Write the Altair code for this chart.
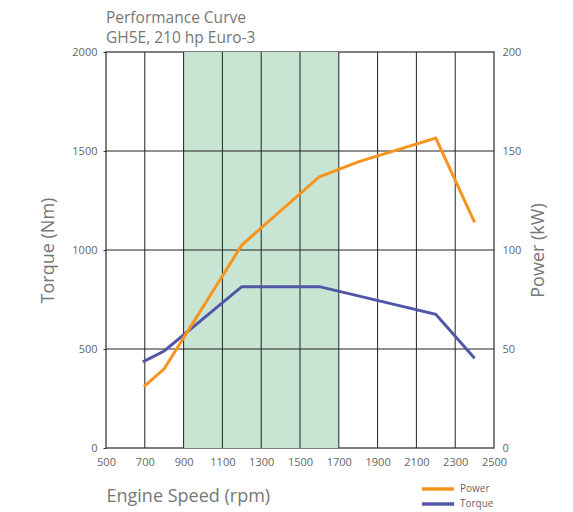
import altair as alt
import pandas as pd

torque_rpm = [690, 800, 1200, 1600, 2200, 2400]
torque_nm = [435, 490, 815, 815, 675, 453]

power_rpm = [695, 800, 1200, 1600, 1800, 2200, 2400]
power_kw = [31, 40, 102.5, 137, 144.5, 156.5, 114]

band_start = [900]
band_end = [1700]

x_grid = [700, 900, 1100, 1300, 1500, 1700, 1900, 2100, 2300]
y_grid = [500, 1000, 1500]

series = ["Power", "Torque"]
colors = ["#F7941D", "#5157A6"]

FONT = "Open Sans"
GRAY = "#666666"

tq = pd.DataFrame({"rpm": torque_rpm, "val": torque_nm, "series": "Torque"})
pw = pd.DataFrame({"rpm": power_rpm, "val": power_kw, "series": "Power"})
band = pd.DataFrame({"x": band_start, "x2": band_end})
xg = pd.DataFrame({"x": x_grid})
yg = pd.DataFrame({"y": y_grid})

xscale = alt.Scale(domain=[500, 2500], nice=False, zero=False)
yl_scale = alt.Scale(domain=[0, 2000], nice=False)
yr_scale = alt.Scale(domain=[0, 200], nice=False)

color = alt.Color(
    "series:N",
    scale=alt.Scale(domain=series, range=colors),
    legend=alt.Legend(
        title=None, orient="none", legendX=314, legendY=431,
        symbolType="stroke", symbolSize=1024, symbolStrokeWidth=3.5,
        labelFontSize=10, labelColor=GRAY, labelFont=FONT,
        clipHeight=12, rowPadding=3, labelOffset=4,
    ),
)

x_axis = alt.Axis(
    values=list(range(500, 2501, 200)), grid=False, domain=False, ticks=False,
    format="d", labelOverlap=False,
    labelPadding=8, labelFontSize=11, labelColor=GRAY, labelFont=FONT,
    title="Engine Speed (rpm)", titleFontSize=18, titleFont=FONT,
    titleFontWeight="normal", titleColor="#777777", titleX=0, titleY=53,
    titleAlign="left", titleBaseline="alphabetic", titleAnchor="start",
    labelFlush=False,
)

left_axis = alt.Axis(
    values=[0, 500, 1000, 1500, 2000], grid=False, domain=False,
    format="d", labelOverlap=False,
    tickSize=3, tickColor="#333333", labelPadding=6,
    labelFontSize=11, labelColor=GRAY, labelFont=FONT,
    title="Torque (Nm)", titleFontSize=18, titleFont=FONT,
    titleFontWeight="normal", titleColor="#777777", titlePadding=14,
)

right_axis = alt.Axis(
    orient="right", values=[0, 50, 100, 150, 200], grid=False, domain=False,
    format="d", labelOverlap=False,
    ticks=False, labelPadding=8,
    labelFontSize=11, labelColor=GRAY, labelFont=FONT,
    title="Power (kW)", titleFontSize=18, titleFont=FONT, titleAngle=270,
    titleFontWeight="normal", titleColor="#777777", titlePadding=27,
)

band_layer = alt.Chart(band).mark_rect(color="#C8E4D3").encode(
    x=alt.X("x:Q", scale=xscale, axis=x_axis),
    x2="x2:Q",
    y=alt.value(0),
    y2=alt.value(396),
)

vgrid = alt.Chart(xg).mark_rule(color="#222222", strokeWidth=1).encode(
    x=alt.X("x:Q", scale=xscale, axis=x_axis),
    y=alt.value(0),
    y2=alt.value(396),
)

hgrid = alt.Chart(yg).mark_rule(color="#222222", strokeWidth=1).encode(
    y=alt.Y("y:Q", scale=yl_scale, axis=left_axis),
    x=alt.value(0),
    x2=alt.value(388),
)

torque_line = alt.Chart(tq).mark_line(strokeWidth=3).encode(
    x=alt.X("rpm:Q", scale=xscale, axis=x_axis),
    y=alt.Y("val:Q", scale=yl_scale, axis=left_axis),
    color=color,
)

power_line = alt.Chart(pw).mark_line(strokeWidth=3).encode(
    x=alt.X("rpm:Q", scale=xscale, axis=x_axis),
    y=alt.Y("val:Q", scale=yr_scale, axis=right_axis),
    color=color,
)

left_part = alt.layer(band_layer, vgrid, hgrid, torque_line)

chart = alt.layer(left_part, power_line).resolve_scale(y="independent").properties(
    width=388,
    height=396,
    autosize=alt.AutoSizeParams(type="none"),
    padding={"left": 98, "top": 44, "right": 71, "bottom": 64},
    title=alt.TitleParams(
        text=["Performance Curve", "GH5E, 210 hp Euro-3"],
        anchor="start", frame="group", fontSize=15.5, fontWeight="normal",
        color="#777777", font=FONT, lineHeight=20, offset=0,
    ),
).configure_view(stroke="#555555", strokeWidth=1.5)

chart.save("out.html", embed_options={"renderer": "svg", "actions": False})
